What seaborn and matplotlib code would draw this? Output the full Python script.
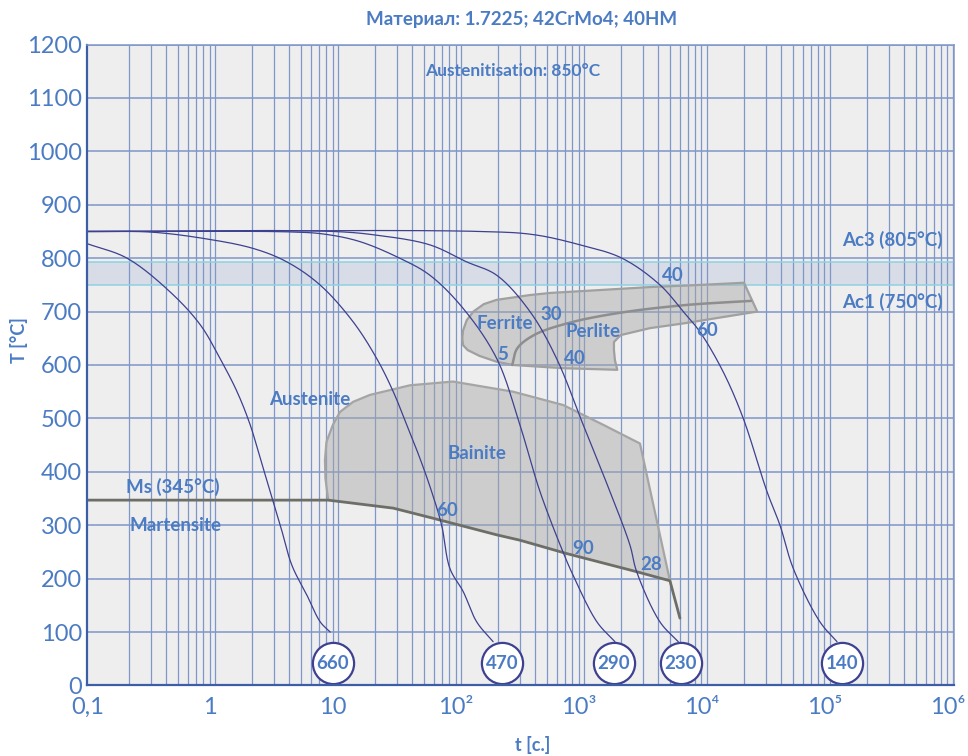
import numpy as np
import pandas as pd
import matplotlib
matplotlib.use("Agg")
import matplotlib.pyplot as plt
from matplotlib.ticker import NullLocator
import seaborn as sns

# ---------------- data ----------------
c660_t = [0.1, 0.21, 0.47, 0.83, 1.2, 1.65, 2.11, 2.55, 3.07, 3.71, 4.61, 6.11, 7.84, 9.45]
c660_T = [827, 800, 737, 675, 612, 550, 488, 425, 363, 300, 225, 169, 119, 100]

c470_t = [0.1, 0.32, 0.88, 2.25, 4.2, 7.8, 14.5, 22.6, 30.8, 39.6, 50.8, 63.2, 76.2, 89, 114, 147, 200]
c470_T = [850, 849, 837, 818, 793, 750, 681, 612, 550, 488, 425, 363, 300, 219, 176, 119, 82]

c290_t = [0.1, 4.7, 8.5, 16.5, 36.2, 61.2, 114, 214, 330, 481, 740, 892, 1398, 1959]
c290_T = [850, 849, 845, 831, 798, 768, 706, 612, 488, 363, 250, 207, 119, 82]

c230_t = [0.1, 10, 22.6, 61, 122, 214, 399, 657, 1081, 1784, 2594, 2942, 4551, 6414]
c230_T = [850, 850, 843, 825, 793, 768, 700, 612, 488, 363, 263, 213, 119, 82]

c140_t = [0.1, 156, 429, 1017, 2234, 4551, 7045, 9632, 14900, 21680, 33810, 43120, 55340, 91230, 125500]
c140_T = [850, 850, 844, 825, 800, 750, 700, 662, 587, 500, 363, 300, 219, 119, 82]

circle_t = [9.94, 237, 1923, 6709, 137000]
circle_T = [42, 42, 42, 42, 42]
circle_lbl = ["660", "470", "290", "230", "140"]

bain_t = [9.1, 8.64, 8.56, 8.81, 9.94, 11.34, 14.5, 19.9, 42.1, 94.2, 291, 744, 1573, 3130, 5490,
          2942, 792, 330, 214, 65.1, 30.8, 9.1]
bain_T = [347, 388, 422, 456, 488, 512, 531, 544, 562, 569, 550, 525, 488, 453, 196,
          213, 247, 272, 282, 313, 332, 347]

ms_t = [0.1, 9.1, 30.8, 65.1, 214, 330, 792, 2942, 5490, 6622]
ms_T = [347, 347, 332, 313, 282, 272, 247, 213, 196, 126]

fp_t = [112, 114, 122, 138, 168, 214, 399, 591, 1398, 3846, 7987, 21970, 28180, 7137, 3775, 2181,
        1923, 1923, 1959, 2046, 743, 291, 214, 155, 124, 114, 112]
fp_T = [650, 665, 684, 700, 714, 722, 731, 735, 740, 746, 749, 754, 700, 678, 669, 656,
        643, 628, 609, 591, 594, 600, 606, 617, 628, 637, 650]

sep_t = [286, 314, 430, 802, 2046, 7137, 25050]
sep_T = [600, 631, 656, 678, 697, 712, 720]

ac_band = [750, 793]

x_ticks = [0.1, 1, 10, 1e2, 1e3, 1e4, 1e5, 1e6]
x_tick_lbl = ["0,1", "1", "10", "10²", "10³", "10⁴", "10⁵", "10⁶"]
y_ticks = list(range(0, 1300, 100))


def smooth_path(ts, Ts, n=24):
    """Centripetal Catmull-Rom through the read points (display smoothing only)."""
    P = np.column_stack([np.log10(ts) * 122.9, np.asarray(Ts, float) * 0.534])
    P = np.vstack([2 * P[0] - P[1], P, 2 * P[-1] - P[-2]])
    out = []
    for i in range(1, len(P) - 2):
        p0, p1, p2, p3 = P[i - 1], P[i], P[i + 1], P[i + 2]
        t0 = 0.0
        t1 = t0 + max(np.linalg.norm(p1 - p0), 1e-6) ** 0.5
        t2 = t1 + max(np.linalg.norm(p2 - p1), 1e-6) ** 0.5
        t3 = t2 + max(np.linalg.norm(p3 - p2), 1e-6) ** 0.5
        for t in np.linspace(t1, t2, n, endpoint=False):
            a1 = (t1 - t) / (t1 - t0) * p0 + (t - t0) / (t1 - t0) * p1
            a2 = (t2 - t) / (t2 - t1) * p1 + (t - t1) / (t2 - t1) * p2
            a3 = (t3 - t) / (t3 - t2) * p2 + (t - t2) / (t3 - t2) * p3
            b1 = (t2 - t) / (t2 - t0) * a1 + (t - t0) / (t2 - t0) * a2
            b2 = (t3 - t) / (t3 - t1) * a2 + (t - t1) / (t3 - t1) * a3
            out.append((t2 - t) / (t2 - t1) * b1 + (t - t1) / (t2 - t1) * b2)
    out.append(P[-2])
    out = np.array(out)
    return 10 ** (out[:, 0] / 122.9), out[:, 1] / 0.534


# ---------------- style ----------------
sns.set_theme(style="white")
plt.rcParams["font.family"] = ["Lato", "DejaVu Sans"]

BLUE = "#4b7cc3"
NAVY = "#3d4190"
GRID = "#7f96c8"
SPINE = "#3d5ea6"

fig = plt.figure(figsize=(9.68, 7.56), dpi=100)
ax = fig.add_axes([0.0903, 0.0933, 0.8952, 0.8478])
ax.set_facecolor("#eeeeee")
ax.set_xscale("log")
ax.set_xlim(0.1, 1.123e6)
ax.set_ylim(0, 1200)
ax.grid(False)

# Ac band
ax.axhspan(ac_band[0], ac_band[1], color="#d7dce6", zorder=0.5, lw=0)
for v in ac_band:
    ax.axhline(v, color="#8dd2e2", lw=1.1, zorder=1.3)

# grid (vertical lines slightly offset as in the reference)
xmax = ax.get_xlim()[1]
for n in range(-1, 6):
    for k in range(2, 11):
        xv = k * 10.0 ** n * 1.1
        if xv < xmax * 0.995:
            ax.axvline(xv, color=GRID, lw=0.9, zorder=1)
for yv in y_ticks[1:]:
    ax.axhline(yv, color=GRID, lw=1.1, zorder=1)

# regions
ax.fill(bain_t, bain_T, facecolor="#a6a6a6", alpha=0.45, edgecolor="none", zorder=2)
ax.plot(bain_t[:15], bain_T[:15], color="#a5a5a5", lw=1.6, zorder=2.5)
ax.fill(fp_t, fp_T, facecolor="#a6a6a6", alpha=0.45, edgecolor="none", zorder=2)
ax.plot(fp_t, fp_T, color="#a0a0a0", lw=1.6, zorder=2.5)
st, sT = smooth_path(sep_t, sep_T)
ax.plot(st, sT, color="#8e8e8e", lw=1.8, zorder=2.6)

# Ms / bainite lower line
sns.lineplot(x=ms_t, y=ms_T, sort=False, estimator=None, color="#6e6e68", lw=2, ax=ax, zorder=3)

# cooling curves
for ct, cT in [(c660_t, c660_T), (c470_t, c470_T), (c290_t, c290_T), (c230_t, c230_T), (c140_t, c140_T)]:
    xt, yT = smooth_path(ct, cT)
    sns.lineplot(x=xt, y=yT, sort=False, estimator=None, color=NAVY, lw=0.9, ax=ax, zorder=4)

# circles
sns.scatterplot(x=circle_t, y=circle_T, s=880, facecolor="white", edgecolor=NAVY,
                linewidth=1.6, ax=ax, zorder=5, legend=False)
for t, T, lbl in zip(circle_t, circle_T, circle_lbl):
    ax.text(t, T, lbl, ha="center", va="center", fontsize=13.5, fontweight="bold", color=BLUE, zorder=6)

# labels inside
kw = dict(color=BLUE, fontweight="bold", ha="center", va="center", zorder=6)
ax.text(290, 1150, "Austenitisation: 850°C", fontsize=12.5, **kw)
ax.text(6.46, 536, "Austenite", fontsize=13.5, **kw)
ax.text(147.7, 435, "Bainite", fontsize=13.5, **kw)
ax.text(249.5, 678, "Ferrite", fontsize=13.5, **kw)
ax.text(1298, 662, "Perlite", fontsize=13.5, **kw)
ax.text(0.496, 372, "Ms (345°C)", fontsize=13.5, **kw)
ax.text(0.52, 300, "Martensite", fontsize=13.5, **kw)
ax.text(590.8, 695, "30", fontsize=13.5, **kw)
ax.text(240.4, 619, "5", fontsize=13.5, **kw)
ax.text(926, 613, "40", fontsize=13.5, **kw)
ax.text(5814, 768, "40", fontsize=13.5, **kw)
ax.text(10990, 665, "60", fontsize=13.5, **kw)
ax.text(84.1, 327, "60", fontsize=13.5, **kw)
ax.text(1076, 257, "90", fontsize=13.5, **kw)
ax.text(3842, 227, "28", fontsize=13.5, **kw)
kwr = dict(kw); kwr["ha"] = "right"
ax.text(9.1e5, 834, "Ac3 (805°C)", fontsize=13.5, **kwr)
ax.text(9.1e5, 718, "Ac1 (750°C)", fontsize=13.5, **kwr)

# ticks
ax.set_xticks(x_ticks)
ax.set_xticklabels(x_tick_lbl)
ax.xaxis.set_minor_locator(NullLocator())
ax.set_yticks(y_ticks)
ax.tick_params(axis="both", length=0, labelsize=17, labelcolor=BLUE)
ax.tick_params(axis="x", pad=8)
ax.tick_params(axis="y", pad=4)
ax.set_xlabel("")
ax.set_ylabel("")

for s in ["left", "bottom"]:
    ax.spines[s].set_color(SPINE)
    ax.spines[s].set_linewidth(1.6)
for s in ["top", "right"]:
    ax.spines[s].set_color(GRID)
    ax.spines[s].set_linewidth(1.1)
for s in ax.spines.values():
    s.set_zorder(7)

fig.text(522 / 968, 1 - 19 / 756, "Материал: 1.7225; 42CrMo4; 40HM", ha="center", va="center",
         fontsize=13.5, fontweight="bold", color=BLUE)
fig.text(18.5 / 968, 1 - 340 / 756, "T [°C]", ha="center", va="center", rotation=90,
         fontsize=13, fontweight="bold", color=BLUE)
fig.text(533 / 968, 1 - 745 / 756, "t [c.]", ha="center", va="center",
         fontsize=13, fontweight="bold", color=BLUE)

fig.savefig("out.png", dpi=100)
